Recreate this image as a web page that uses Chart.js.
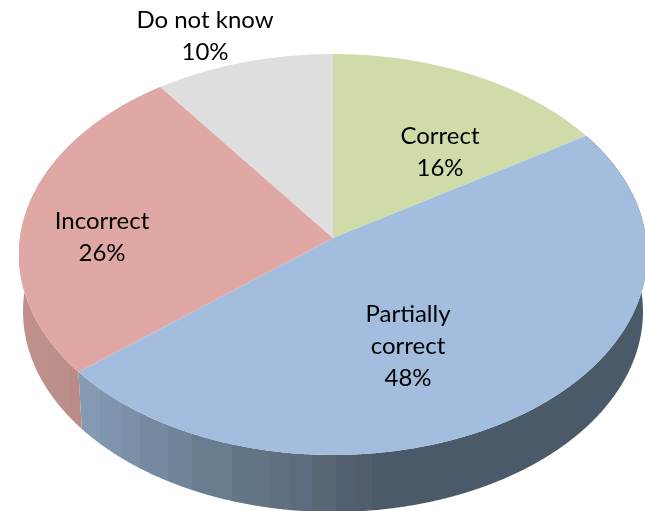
<!DOCTYPE html>
<html>
<head>
<meta charset="utf-8">
<title>Answers</title>
<script src="https://cdn.jsdelivr.net/npm/chart.js@4/dist/chart.umd.min.js"></script>
<style>
    html, body { margin: 0; padding: 0; background: #fff; }
    canvas { display: block; }
</style>
</head>
<body>
<canvas id="pieChart" width="645" height="511"></canvas>
<script>
const categories = ['Correct', 'Partially correct', 'Incorrect', 'Do not know'];
const shares = [16, 48, 26, 10];
const sliceColors = ['#cfdcaa', '#a2bddd', '#dfa8a4', '#dedede'];

// 3D look: the circle is pushed through a perspective projection
const APEX_X = 333, APEX_Y = 238;
const SCALE_X = 313, SCALE_Y = 199.1, TILT = -0.0823;
const DEPTH = 57, RIM_SHRINK = 0.987;

function project(angle) {
    const u = Math.cos(angle), v = Math.sin(angle);
    const w = 1 + TILT * v;
    return { x: APEX_X + SCALE_X * u / w, y: APEX_Y + SCALE_Y * v / w };
}

function slicePoints(arc) {
    const pts = [];
    const steps = Math.ceil((arc.endAngle - arc.startAngle) / 0.004);
    for (let i = 0; i <= steps; i++) {
        pts.push(project(arc.startAngle + (arc.endAngle - arc.startAngle) * i / steps));
    }
    return pts;
}

// the wall is shaded in faint vertical bands: [right edge x, colour]
function bandFill(ctx, bands) {
    const g = ctx.createLinearGradient(0, 0, 645, 0);
    let left = 0;
    bands.forEach(b => {
        g.addColorStop(left / 645, b[1]);
        g.addColorStop(b[0] / 645, b[1]);
        left = b[0];
    });
    return g;
}

const pie3d = {
    id: 'pie3d',
    beforeDatasetDraw(chart, args) {
        const ctx = chart.ctx;
        const arcs = args.meta.data;
        const walls = {
            1: bandFill(ctx, [[100, '#8499b3'], [110, '#7f97ae'], [122, '#8094ae'], [140, '#7a90a8'], [168, '#758aa0'],
                [192, '#70859a'], [225, '#687c8f'], [232, '#697b8e'], [245, '#637687'], [270, '#637485'], [290, '#5f7081'],
                [312, '#5c6b7e'], [336, '#596775'], [355, '#525f70'], [372, '#525d6c'], [645, '#4a5a69']]),
            2: bandFill(ctx, [[45, '#bf8f8c'], [55, '#bb8f8a'], [70, '#bc8e8a'], [645, '#ba8b88']])
        };

        ctx.save();

        // side wall
        Object.keys(walls).forEach(i => {
            const pts = slicePoints(arcs[i]);
            ctx.beginPath();
            pts.forEach((p, n) => n ? ctx.lineTo(p.x, p.y) : ctx.moveTo(p.x, p.y));
            pts.slice().reverse().forEach(p => {
                ctx.lineTo(APEX_X + (p.x - APEX_X) * RIM_SHRINK, p.y + DEPTH);
            });
            ctx.closePath();
            ctx.fillStyle = walls[i];
            ctx.fill();
        });

        // top face
        arcs.forEach(arc => {
            ctx.beginPath();
            ctx.moveTo(APEX_X, APEX_Y);
            slicePoints(arc).forEach(p => ctx.lineTo(p.x, p.y));
            ctx.closePath();
            ctx.fillStyle = arc.options.backgroundColor;
            ctx.fill();
        });
        ctx.restore();
        return false;
    },
    afterDatasetsDraw(chart) {
        const ctx = chart.ctx;
        const spots = [
            { x: 440, y: 136, lines: ['Correct'] },
            { x: 408, y: 314, lines: ['Partially', 'correct'] },
            { x: 102, y: 221, lines: ['Incorrect'] },
            { x: 205, y: 20, lines: ['Do not know'] }
        ];
        ctx.save();
        ctx.font = '24px Lato';
        ctx.fillStyle = '#000';
        ctx.textAlign = 'center';
        ctx.textBaseline = 'middle';
        spots.forEach((s, i) => {
            const rows = s.lines.concat(shares[i] + '%');
            rows.forEach((t, n) => ctx.fillText(t, s.x, s.y + n * 32));
        });
        ctx.restore();
    }
};

new Chart(document.getElementById('pieChart').getContext('2d'), {
    type: 'pie',
    data: {
        labels: categories,
        datasets: [{ data: shares, backgroundColor: sliceColors, borderWidth: 0 }]
    },
    options: {
        responsive: false,
        animation: false,
        plugins: {
            legend: { display: false },
            tooltip: { enabled: false }
        }
    },
    plugins: [pie3d]
});
</script>
</body>
</html>
